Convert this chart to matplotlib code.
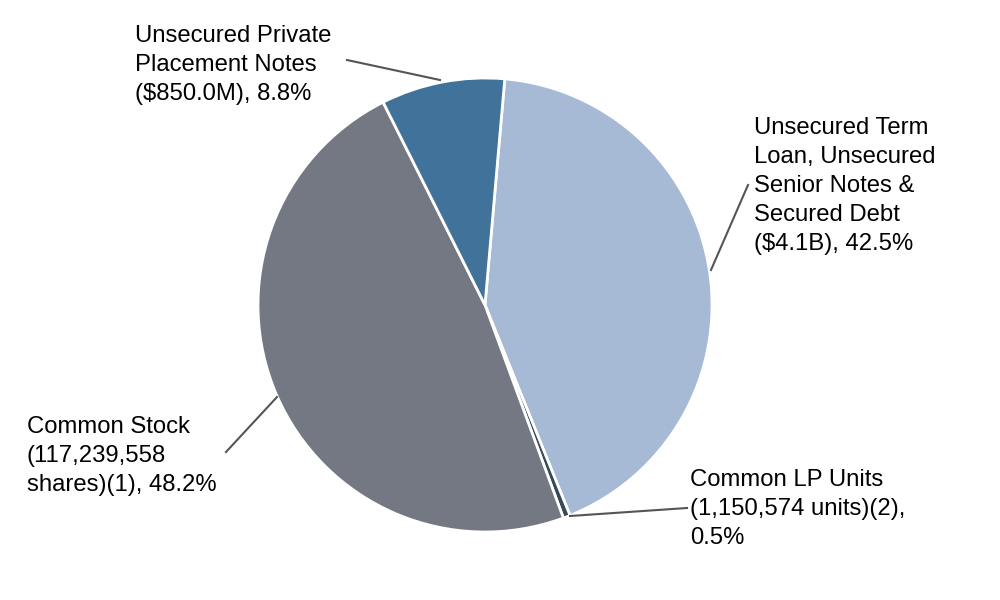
import matplotlib.pyplot as plt

plt.rcParams['font.family'] = ['Liberation Sans', 'DejaVu Sans']

labels = [
    "Unsecured Term\nLoan, Unsecured\nSenior Notes &\nSecured Debt\n($4.1B), 42.5%",
    "Common LP Units\n(1,150,574 units)(2),\n0.5%",
    "Common Stock\n(117,239,558\nshares)(1), 48.2%",
    "Unsecured Private\nPlacement Notes\n($850.0M), 8.8%",
]
shares = [42.5, 0.5, 48.2, 8.8]
colors = ["#a6bad5", "#35485c", "#747882", "#41729a"]

# leader line (from, to) and text anchor, in pixel coords (y down)
lines = [((748, 185), (711, 270)), ((570, 516), (687, 508)),
         ((277, 397), (226, 452)), ((347, 60), (440, 80))]
text_pos = [(754, 117), (690, 469), (27, 416), (135, 25)]

fig = plt.figure(figsize=(10, 6), dpi=100)
ax = fig.add_axes([0, 0, 1, 1])

# y axis is flipped, so counterclock=True draws clockwise on screen
ax.pie(shares, colors=colors, startangle=-85, counterclock=True,
       center=(485, 305), radius=227,
       wedgeprops=dict(edgecolor='white', linewidth=2))
ax.set_xlim(0, 1000)
ax.set_ylim(600, 0)
ax.set_aspect('equal')
ax.axis('off')

for lab, (p0, p1), (tx, ty) in zip(labels, lines, text_pos):
    ax.plot([p0[0], p1[0]], [p0[1], p1[1]], color='#555555', lw=1.5)
    ax.text(tx, ty, lab, fontsize=17.2, ha='left', va='top', linespacing=1.41)

fig.savefig('out.png', dpi=100)
